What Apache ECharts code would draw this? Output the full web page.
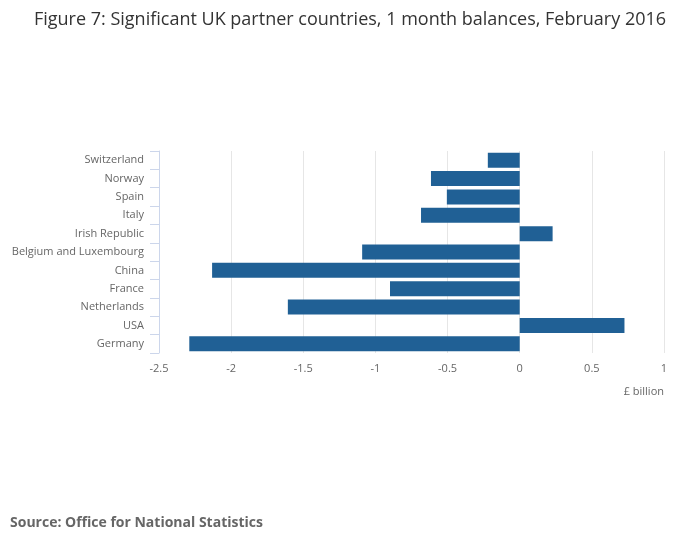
<!DOCTYPE html>
<html>
<head>
<meta charset="utf-8">
<style>
  html, body { margin: 0; padding: 0; background: #fff; }
  #chart-panel { width: 700px; height: 549px; }
</style>
<script src="https://cdn.jsdelivr.net/npm/echarts@6/dist/echarts.min.js"></script>
</head>
<body>
<div id="chart-panel"></div>
<script type="text/javascript">
// categories listed bottom to top, as the category axis draws them
var countries = ['Germany', 'USA', 'Netherlands', 'France', 'China',
  'Belgium and Luxembourg', 'Irish Republic', 'Italy', 'Spain', 'Norway', 'Switzerland'];
var balances = [-2.29, 0.726, -1.607, -0.899, -2.132, -1.092, 0.228, -0.684, -0.505, -0.615, -0.221];
var xTicks = { min: -2.5, max: 1, step: 0.5 };

var myChart = echarts.init(document.getElementById('chart-panel'));

var option = {
  animation: false,
  textStyle: { fontFamily: 'Open Sans' },
  title: [
    {
      text: 'Figure 7: Significant UK partner countries, 1 month balances, February 2016',
      left: 'center',
      top: 6,
      textStyle: { fontSize: 18, fontWeight: 'normal', color: '#333333', fontFamily: 'Open Sans' }
    },
    {
      text: '£ billion',
      right: 31,
      top: 381,
      textStyle: { fontSize: 11, fontWeight: 'normal', color: '#666666', fontFamily: 'Open Sans' }
    },
    {
      text: 'Source: Office for National Statistics',
      left: 5,
      top: 511,
      textStyle: { fontSize: 14, fontWeight: 'bold', color: '#666666', fontFamily: 'Open Sans' }
    }
  ],
  grid: { left: 159, right: 36, top: 151, bottom: 196, containLabel: false },
  xAxis: {
    type: 'value',
    min: xTicks.min,
    max: xTicks.max,
    interval: xTicks.step,
    axisLine: { show: false },
    axisTick: { show: false },
    axisLabel: { color: '#666666', fontSize: 11, margin: 10 },
    splitLine: { show: true, lineStyle: { color: '#e6e6e6', width: 1 } }
  },
  yAxis: {
    type: 'category',
    data: countries,
    axisLine: { show: true, onZero: false, lineStyle: { color: '#ccd6eb', width: 1 } },
    axisTick: { show: true, length: 9, lineStyle: { color: '#ccd6eb' } },
    axisLabel: { color: '#666666', fontSize: 11, margin: 15 },
    splitLine: { show: false }
  },
  series: [
    {
      type: 'bar',
      data: balances,
      barWidth: 15,
      itemStyle: { color: '#206095' }
    }
  ]
};

myChart.setOption(option);
</script>
</body>
</html>
